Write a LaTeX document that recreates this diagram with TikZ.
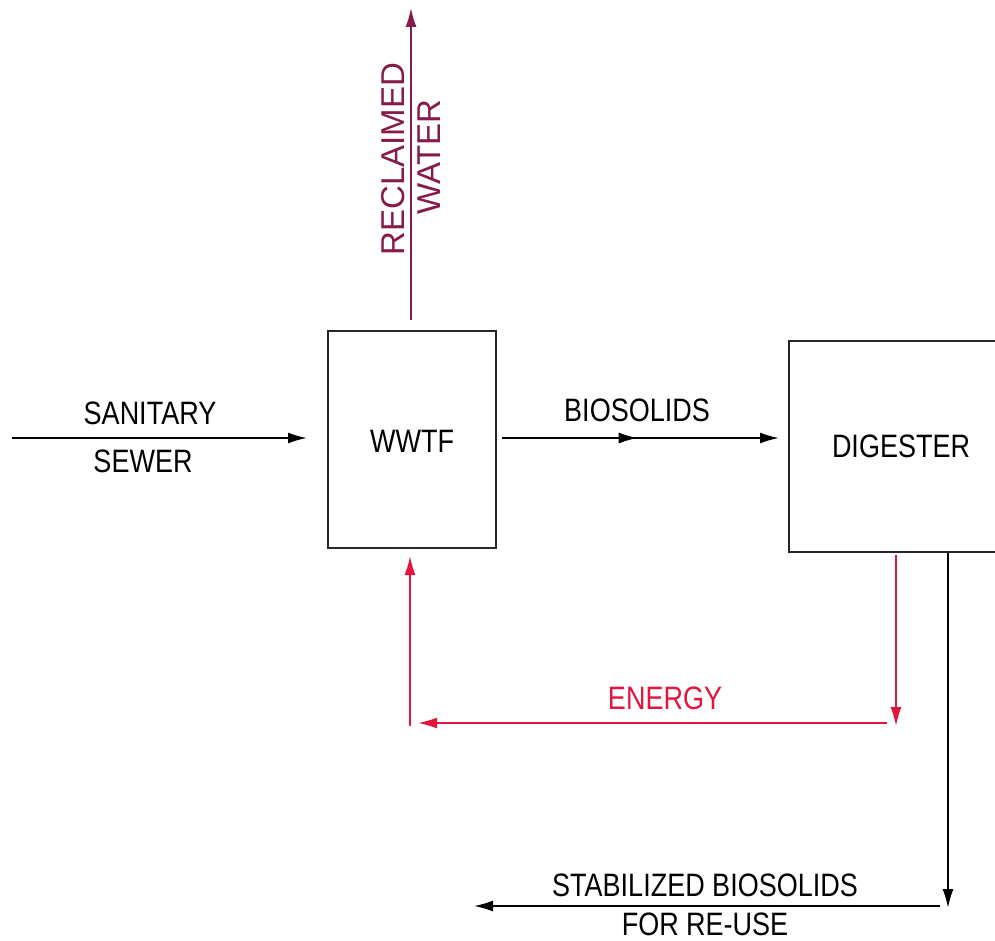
\documentclass[tikz,border=0pt]{standalone}
\usepackage{fontspec}
\setmainfont{Liberation Sans}
\usetikzlibrary{arrows.meta,decorations.markings}
\definecolor{maroon}{RGB}{135,25,75}
\definecolor{energyred}{RGB}{228,20,60}
\newcommand{\tallt}[1]{\scalebox{1}[1.2]{#1}}
\tikzset{
  lbl/.style={font=\fontsize{27}{32}\selectfont, inner sep=0pt},
  vlbl/.style={font=\fontsize{33}{38}\selectfont, inner sep=0pt, rotate=90},
  flow/.style={line width=1.8pt, -{Latex[length=19pt,width=11pt]}},
  boxline/.style={line width=2.4pt, draw=black!85},
  midarrow/.style={postaction={decorate}, decoration={markings, mark=at position 0.49 with {\arrow{Latex[length=19pt,width=11pt]}}}}
}
\begin{document}
\begin{tikzpicture}[x=1pt,y=-1pt]
\useasboundingbox (0,0) rectangle (995,941);
% WWTF box
\node[boxline, draw, minimum width=168pt, minimum height=217pt, inner sep=0pt] (wwtf) at (412,439.5) {};
\node[lbl] (wwtft) at (412,441) {\tallt{WWTF}};
% Digester (cut off on the right)
\draw[boxline] (997,341) -- (789,341) -- (789,552) -- (997,552);
\node[lbl] (dig) at (901,446) {\tallt{DIGESTER}};
% Sanitary sewer
\coordinate (s0) at (12,438);
\coordinate (s1) at (307,438);
\draw[flow] (s0) -- (s1);
\node[lbl] (san) at (150,413) {\tallt{SANITARY}};
\node[lbl] (sew) at (143,461) {\tallt{SEWER}};
% Biosolids
\coordinate (b0) at (502,438);
\coordinate (b1) at (779,438);
\draw[flow, midarrow] (b0) -- (b1);
\node[lbl] (bio) at (637,410) {\tallt{BIOSOLIDS}};
% Reclaimed water
\coordinate (r0) at (411,320);
\coordinate (r1) at (411,8);
\draw[flow, draw=maroon, color=maroon] (r0) -- (r1);
\node[vlbl, text=maroon] (rec) at (393,159) {RECLAIMED};
\node[vlbl, text=maroon] (wat) at (429,157) {WATER};
% Energy
\coordinate (e0) at (896,555);
\coordinate (e1) at (896,726);
\coordinate (e2) at (887,723);
\coordinate (e3) at (418,723);
\coordinate (e4) at (410,726);
\coordinate (e5) at (410,556);
\draw[flow, draw=energyred, color=energyred] (e0) -- (e1);
\draw[flow, draw=energyred, color=energyred] (e2) -- (e3);
\draw[flow, draw=energyred, color=energyred] (e4) -- (e5);
\node[lbl, text=energyred] (en) at (665,698) {\tallt{ENERGY}};
% Stabilized biosolids
\coordinate (t0) at (948,553);
\coordinate (t1) at (948,908);
\coordinate (t2) at (940,906);
\coordinate (t3) at (474,906);
\draw[flow] (t0) -- (t1);
\draw[flow] (t2) -- (t3);
\node[lbl] (stab) at (705,885) {\tallt{STABILIZED BIOSOLIDS}};
\node[lbl] (reuse) at (705,924) {\tallt{FOR RE-USE}};
\end{tikzpicture}
\end{document}
